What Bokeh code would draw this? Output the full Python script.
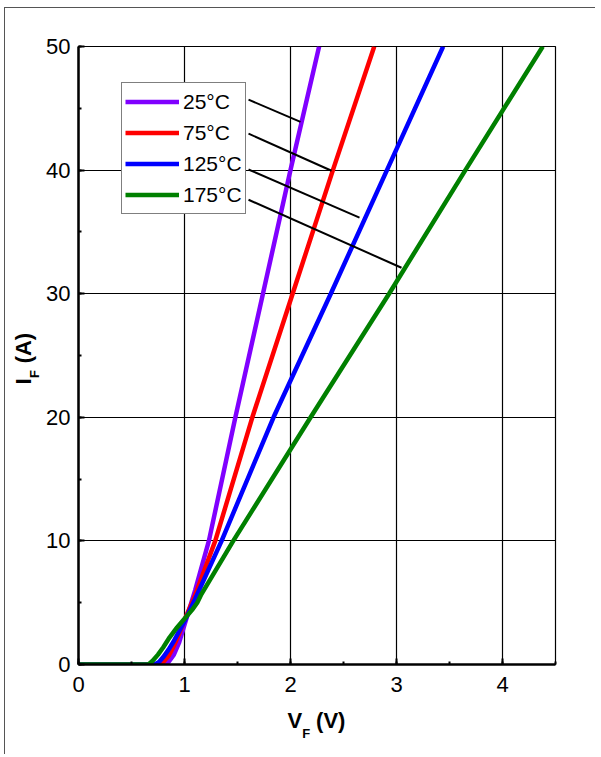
from bokeh.plotting import figure
from bokeh.models import (Legend, LegendItem, Range1d, SingleIntervalTicker,
                          FixedTicker, LinearAxis)
from bokeh.embed import file_html
from bokeh.resources import INLINE

# ---- data ----
v_25 = [0, 0.80, 0.85, 0.90, 0.95, 1.00, 1.05, 1.10, 1.23, 1.48, 1.74, 2.00, 2.27]
i_25 = [0, 0, 0.2, 0.8, 1.8, 3.2, 4.6, 6.0, 10, 20, 30, 40, 50]

v_75 = [0, 0.76, 0.80, 0.85, 0.90, 0.95, 1.00, 1.05, 1.10, 1.29, 1.64, 2.02, 2.40, 2.79]
i_75 = [0, 0, 0.2, 0.7, 1.5, 2.5, 3.6, 4.6, 5.6, 10, 20, 30, 40, 50]

v_125 = [0, 0.72, 0.76, 0.80, 0.85, 0.90, 0.95, 1.00, 1.05, 1.10, 1.35, 1.84, 2.38, 2.91, 3.44]
i_125 = [0, 0, 0.2, 0.6, 1.2, 1.9, 2.7, 3.5, 4.4, 5.3, 10, 20, 30, 40, 50]

v_175 = [0, 0.66, 0.70, 0.75, 0.80, 0.86, 0.93, 1.00, 1.07, 1.12, 1.16, 1.46, 2.19, 2.93, 3.65, 4.38]
i_175 = [0, 0, 0.3, 0.8, 1.4, 2.2, 3.0, 3.7, 4.4, 5.0, 5.7, 10, 20, 30, 40, 50]

series_labels = ["25°C", "75°C", "125°C", "175°C"]
series_colors = ["#8000ff", "#ff0000", "#0000ff", "#008000"]

# leader lines from legend entries to curves (data units)
leader_x0 = [1.604, 1.604, 1.604, 1.604]
leader_y0 = [45.7, 42.95, 40.05, 37.6]
leader_x1 = [2.094, 2.387, 2.651, 3.047]
leader_y1 = [43.9, 39.95, 36.15, 32.1]

# axis-title pieces (main text + subscript), placed along each axis
x_title_main = {2.040: "V", 2.380: "(V)"}
x_title_sub = {2.148: "F"}
y_title_main = {22.9: "I", 25.6: "(A)"}
y_title_sub = {23.5: "F"}

FONT = "Liberation Sans"

p = figure(frame_width=477, frame_height=618,
           x_range=Range1d(0, 4.5), y_range=Range1d(0, 50),
           output_backend="svg", toolbar_location=None,
           min_border_left=73, min_border_right=40,
           min_border_top=38, min_border_bottom=90)
p.background_fill_color = "white"
p.border_fill_color = "white"
p.outline_line_color = "black"
p.outline_line_width = 1.2

xt = SingleIntervalTicker(interval=1, num_minor_ticks=2)
yt = SingleIntervalTicker(interval=10, num_minor_ticks=2)
p.xaxis.ticker = xt
p.yaxis.ticker = yt
p.xgrid.ticker = xt
p.ygrid.ticker = yt
for g in (p.xgrid, p.ygrid):
    g.grid_line_color = "black"
    g.grid_line_width = 1.2

for ax in (p.xaxis, p.yaxis):
    ax.axis_line_width = 2.5
    ax.axis_line_color = "black"
    ax.major_tick_in = 6
    ax.major_tick_out = 0
    ax.minor_tick_in = 3
    ax.minor_tick_out = 0
    ax.major_tick_line_width = 2
    ax.minor_tick_line_width = 2
    ax.major_tick_line_color = "black"
    ax.minor_tick_line_color = "black"
    ax.major_label_text_font = FONT
    ax.major_label_text_font_size = "22px"
    ax.major_label_text_color = "black"
p.xaxis.major_label_standoff = 12
p.yaxis.major_label_standoff = 8


def title_axis(pieces, size, standoff, vertical):
    ax = LinearAxis(ticker=FixedTicker(ticks=list(pieces.keys()), minor_ticks=[]),
                    major_label_overrides=dict(pieces),
                    axis_line_color=None, major_tick_line_color=None,
                    minor_tick_line_color=None, major_tick_in=0, major_tick_out=0,
                    minor_tick_in=0, minor_tick_out=0,
                    major_label_text_font=FONT, major_label_text_font_size=size,
                    major_label_text_font_style="bold", major_label_text_color="black",
                    major_label_standoff=standoff)
    if vertical:
        ax.major_label_orientation = "vertical"
    return ax


p.add_layout(title_axis(x_title_main, "22px", 13, False), "below")
p.add_layout(title_axis(x_title_sub, "13px", -10, False), "below")
p.add_layout(title_axis(y_title_sub, "13px", 1, True), "left")
p.add_layout(title_axis(y_title_main, "22px", -12, True), "left")

renderers = []
for vs, is_, c in zip([v_25, v_75, v_125, v_175], [i_25, i_75, i_125, i_175], series_colors):
    r = p.line(vs, is_, line_color=c, line_width=4.5)
    renderers.append(r)

p.segment(leader_x0, leader_y0, leader_x1, leader_y1, line_color="black", line_width=2)

legend = Legend(items=[LegendItem(label=l, renderers=[r]) for l, r in zip(series_labels, renderers)],
                location=(43, 450), margin=0, padding=3, spacing=0,
                glyph_width=54, glyph_height=31, label_height=31, label_standoff=4,
                label_text_font=FONT, label_text_font_size="21px",
                label_text_color="black",
                border_line_color="black", border_line_width=1.5,
                background_fill_color="white", background_fill_alpha=1.0)
p.add_layout(legend, "center")

p.styles = {"border-top": "1px solid #555", "border-left": "1px solid #555"}
p.margin = (7, 0, 0, 4)

open("out.html", "w").write(file_html(p, INLINE))
